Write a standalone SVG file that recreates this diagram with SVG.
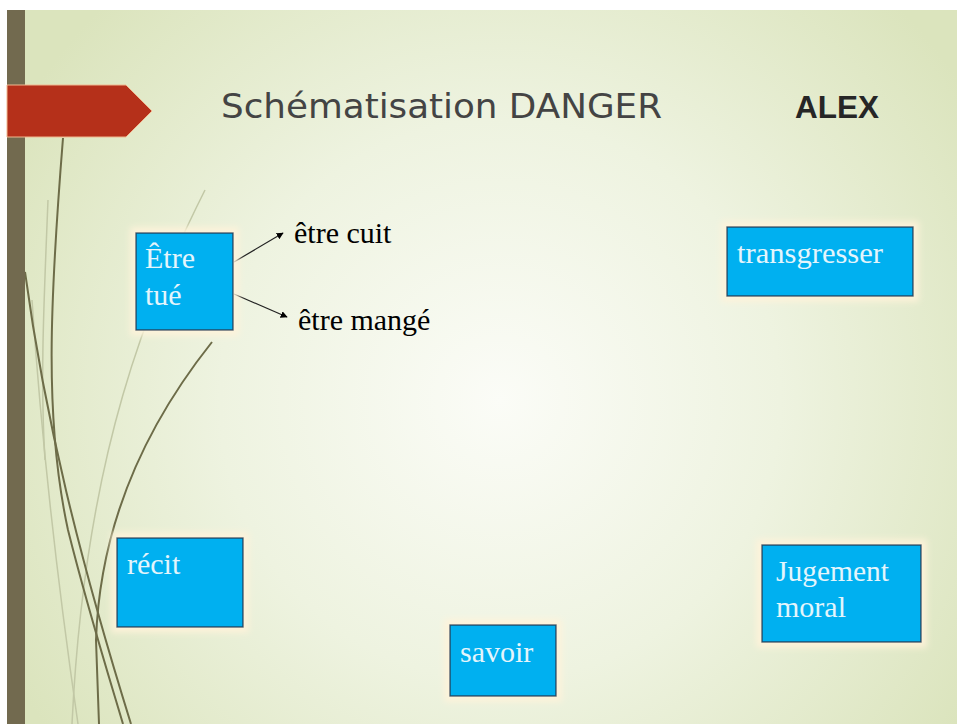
<svg xmlns="http://www.w3.org/2000/svg" width="957" height="724" viewBox="0 0 957 724">
<defs>
<radialGradient id="bg" cx="500" cy="400" r="560" gradientUnits="userSpaceOnUse">
<stop offset="0" stop-color="#fbfcf7"/>
<stop offset="0.5" stop-color="#eef3e0"/>
<stop offset="1" stop-color="#dbe4bd"/>
</radialGradient>
<filter id="glow" x="-20%" y="-20%" width="140%" height="140%">
<feMorphology in="SourceAlpha" operator="dilate" radius="5" result="d"/>
<feGaussianBlur in="d" stdDeviation="3" result="b"/>
<feFlood flood-color="#fff3da" flood-opacity="0.9"/>
<feComposite in2="b" operator="in" result="g"/>
<feMerge><feMergeNode in="g"/><feMergeNode in="SourceGraphic"/></feMerge>
</filter>
<marker id="arr" viewBox="0 0 10 10" refX="9" refY="5" markerWidth="7" markerHeight="7" markerUnits="userSpaceOnUse" orient="auto">
<path d="M0,0 L10,5 L0,10 Z" fill="#000"/>
</marker>
<style>
.box{fill:#00b0f0;stroke:#1f4d6b;stroke-width:1.5;filter:url(#glow)}
.bt{font-family:"Liberation Serif",serif;font-size:30px;fill:#e4f5fc}
.lbl{font-family:"Liberation Serif",serif;font-size:30px;fill:#000}
.dk{fill:none;stroke:#6d6c48;stroke-width:2}
.ft{fill:none;stroke:#c2c8a6;stroke-width:1.5}
.conn{fill:none;stroke:#222;stroke-width:1.2;marker-end:url(#arr)}
</style>
</defs>
<rect width="957" height="724" fill="#ffffff"/>
<rect x="7" y="10" width="950" height="714" fill="url(#bg)"/>
<g id="decor">
<path class="ft" d="M205,190 C150,300 85,450 72,724"/>
<path class="ft" d="M32,300 C42,450 60,600 78,724"/>
<path class="ft" d="M48,200 C44,300 40,380 45,460"/>
<path class="dk" d="M25,272 C45,420 80,560 131,724"/>
<path class="dk" d="M63,138 C50,300 44,420 68,530 C88,610 110,680 123,724"/>
<path class="dk" d="M212,342 C150,420 100,520 96,640 L99,724" stroke-width="1.6"/>
<rect x="7" y="10" width="18" height="714" fill="#726a4f"/>
<path d="M7,85 L126,85 L152,111 L126,137 L7,137 Z" fill="#b5301a" stroke="#f0b890" stroke-width="1"/>
</g>
<g id="title">
<text x="221" y="118" font-family="'DejaVu Sans','Liberation Sans',sans-serif" font-size="33" fill="#444444" textLength="441" lengthAdjust="spacingAndGlyphs">Schématisation DANGER</text>
<text x="795" y="118" font-family="'Liberation Sans',sans-serif" font-size="31" font-weight="bold" fill="#262626" textLength="84" lengthAdjust="spacingAndGlyphs">ALEX</text>
</g>
<g id="connectors">
<line class="conn" x1="234" y1="262" x2="283" y2="233"/>
<line class="conn" x1="234" y1="294" x2="287" y2="317"/>
</g>
<g id="node-etre-tue">
<rect class="box" x="136" y="233" width="97" height="97"/>
<text class="bt" x="145" y="268">Être</text>
<text class="bt" x="145" y="305">tué</text>
</g>
<g id="label-etre-cuit">
<text class="lbl" x="294" y="243">être cuit</text>
</g>
<g id="label-etre-mange">
<text class="lbl" x="298" y="330">être mangé</text>
</g>
<g id="node-transgresser">
<rect class="box" x="727" y="227" width="186" height="69"/>
<text class="bt" x="737" y="263" textLength="146" lengthAdjust="spacingAndGlyphs">transgresser</text>
</g>
<g id="node-recit">
<rect class="box" x="117" y="538" width="126" height="89"/>
<text class="bt" x="127" y="574">récit</text>
</g>
<g id="node-savoir">
<rect class="box" x="450" y="625" width="106" height="71"/>
<text class="bt" x="460" y="662">savoir</text>
</g>
<g id="node-jugement">
<rect class="box" x="762" y="545" width="159" height="97"/>
<text class="bt" x="776" y="581" textLength="113" lengthAdjust="spacingAndGlyphs">Jugement</text>
<text class="bt" x="776" y="617">moral</text>
</g>
</svg>
